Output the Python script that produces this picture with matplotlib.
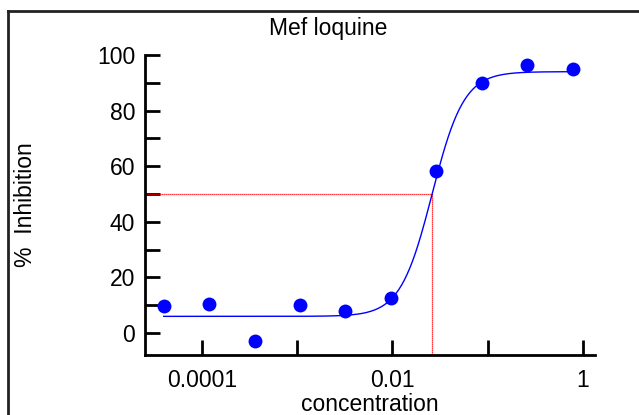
import numpy as np
import matplotlib
matplotlib.use("Agg")
import matplotlib.pyplot as plt
from matplotlib.lines import Line2D

plt.rcParams['font.family'] = ['Liberation Sans', 'DejaVu Sans']

# data (3-fold dilution series)
conc = [3.96e-5, 1.19e-4, 3.57e-4, 1.07e-3, 3.21e-3, 9.63e-3, 0.0289, 0.0867, 0.26, 0.78]
inhibition = [9.6, 10.5, -3.0, 10.2, 8.1, 12.6, 58.3, 89.8, 96.4, 94.9]

# fitted 4-parameter logistic
bottom, top, ic50, hill = 6.0, 94.0, 0.0261, 2.6

xticks = [1e-4, 1e-3, 1e-2, 1e-1, 1]
xticklabels = ['0.0001', '', '0.01', '', '1']
yticks = [0, 20, 40, 60, 80, 100]

fig = plt.figure(figsize=(6.39, 4.15), dpi=100)
ax = fig.add_axes([145/639, 1 - 355/415, 450/639, 300/415])

xs = np.logspace(np.log10(conc[0]), np.log10(conc[-1]), 300)
fit = bottom + (top - bottom) / (1 + (ic50 / xs) ** hill)
ax.plot(xs, fit, color='#0000ff', lw=1.0, zorder=3)
ax.plot(conc, inhibition, 'o', color='#0000ff', ms=10, mec='none', zorder=4)

ax.set_xscale('log')
ax.set_xlim(2.52e-5, 1.34)
ax.set_ylim(-7.9, 100)

# IC50 guide lines
ax.plot([2.52e-5, ic50, ic50], [50, 50, -7.9], color='red', lw=0.9, ls=(0, (1, 0.6)), zorder=2)

ax.set_xticks(xticks)
ax.set_xticklabels(xticklabels)
ax.minorticks_off()
ax.set_yticks(yticks)
ax.set_yticks([10, 30, 50, 70, 90], minor=True)

for s in ['top', 'right']:
    ax.spines[s].set_visible(False)
for s in ['left', 'bottom']:
    ax.spines[s].set_linewidth(2)
ax.spines['left'].set_bounds(-7.9, 100)

ax.tick_params(axis='both', which='both', direction='in', length=11, width=2,
               labelsize=16.5, colors='black')
ax.tick_params(axis='x', pad=10)
ax.tick_params(axis='y', pad=7)

ax.set_xlabel('concentration', fontsize=16.5, labelpad=1)
ax.set_ylabel('%  Inhibition', fontsize=16.5, labelpad=43)

fig.text(328/639, 1 - 29/415, 'Mef loquine', fontsize=16.5, ha='center', va='center')

# outer frame (only left and top edges visible in the crop)
fig.add_artist(Line2D([8/639, 8/639], [0, 1 - 11/415], transform=fig.transFigure, color='#222222', lw=2))
fig.add_artist(Line2D([8/639, 1], [1 - 11/415, 1 - 11/415], transform=fig.transFigure, color='#222222', lw=2))

fig.savefig('out.png', dpi=100)
